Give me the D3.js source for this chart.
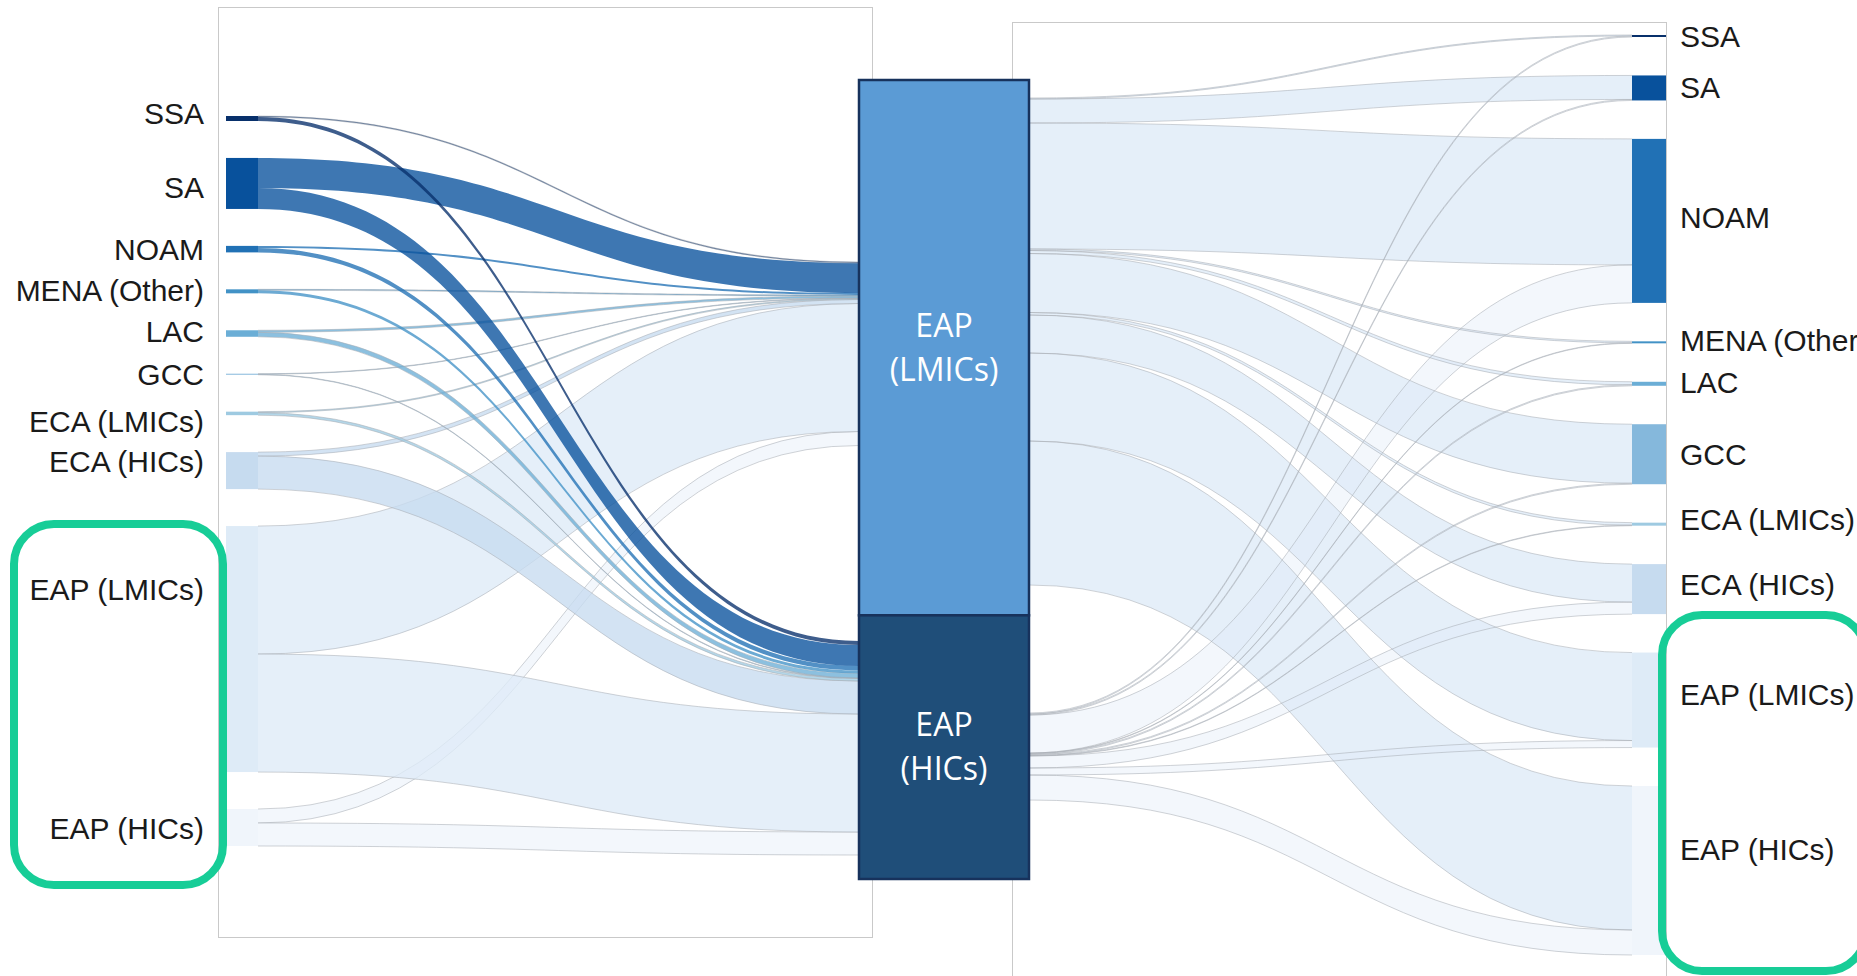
<!DOCTYPE html>
<html>
<head>
<meta charset="utf-8">
<script src="https://cdn.jsdelivr.net/npm/d3@7"></script>
<style>
  body { margin: 0; background: #ffffff; }
  svg { display: block; }
</style>
</head>
<body>
<svg id="chart" width="1857" height="976"></svg>
<script>
// ---------------- DATA ----------------
const regions = ["SSA", "SA", "NOAM", "MENA (Other)", "LAC", "GCC",
                 "ECA (LMICs)", "ECA (HICs)", "EAP (LMICs)", "EAP (HICs)"];
const hubs = ["EAP (LMICs)", "EAP (HICs)"];
const hubShare = [67, 33];

// flows from each region (left) into the two EAP hubs
const inToLMIC = [0.5, 15, 1, 0.5, 1, 0.25, 0.5, 2, 64, 7];
const inToHIC  = [2, 10.5, 2.25, 1.5, 2.25, 0.25, 1.25, 16.5, 59, 11.5];

// flows from the two EAP hubs out to each region (right)
const outFromLMIC = [0.5, 12, 63, 0.75, 1.5, 29.5, 1.25, 19, 44, 72];
const outFromHIC  = [0.5, 0.5, 19, 0.25, 0.5, 0.5, 0.25, 6, 3.5, 12.5];

// ---------------- STYLE / LAYOUT ----------------
const regionColors = ["#08306b", "#08519c", "#2171b5", "#4292c6", "#6baed6",
                      "#85b8dc", "#9ecae1", "#c6dbef", "#deebf7", "#f0f5fb"];
const hubColors = ["#5b9bd5", "#1f4e79"];
const color = d3.scaleOrdinal(regions, regionColors);

const svg = d3.select("#chart");
const px = d3.scaleLinear().domain([0, 1]).range([0, 2]);

const L = { x0: 226, x1: 258, top: 116, bottom: 846 };
const R = { x0: 1632, x1: 1666, top: 35, bottom: 955 };
const HUB = { x0: 859, x1: 1029, top: 80, bottom: 879 };
const hubInStart = [262, 641];
const hubOutStart = [98, 713];
const linkOpacity = 0.78;

const leftLabelDy = { "SSA": -5, "SA": 4, "MENA (Other)": -1, "LAC": -2, "ECA (LMICs)": 8,
                      "ECA (HICs)": -9, "EAP (LMICs)": -60, "EAP (HICs)": 1 };
const rightLabelDy = { "NOAM": -3, "MENA (Other)": -1.5, "LAC": -1, "ECA (LMICs)": -4.5,
                       "ECA (HICs)": -5, "EAP (LMICs)": -6, "EAP (HICs)": -21.5 };

// ---------------- LAYOUT COMPUTATION ----------------
function stack(values, top, bottom) {
  const hs = values.map(v => px(v));
  const total = d3.sum(hs);
  const pad = (bottom - top - total) / (values.length - 1);
  let y = top;
  return hs.map(h => { const n = { y0: y, y1: y + h }; y += h + pad; return n; });
}

const leftVals = regions.map((r, i) => inToLMIC[i] + inToHIC[i]);
const rightVals = regions.map((r, i) => outFromLMIC[i] + outFromHIC[i]);
const leftNodes = stack(leftVals, L.top, L.bottom);
const rightNodes = stack(rightVals, R.top, R.bottom);

const hubY = d3.scaleLinear().domain([0, d3.sum(hubShare)]).range([HUB.top, HUB.bottom]);
const hubBounds = [[hubY(0), hubY(hubShare[0])], [hubY(hubShare[0]), hubY(hubShare[0] + hubShare[1])]];

// left links
const leftLinks = [];
const inFlows = [inToLMIC, inToHIC];
regions.forEach((r, i) => {
  let sy = leftNodes[i].y0;
  [0, 1].forEach(h => {
    const hh = px(inFlows[h][i]);
    leftLinks.push({ src: i, hub: h, h: hh, sy: sy, ty: 0 });
    sy += hh;
  });
});
[0, 1].forEach(h => {
  let ty = hubInStart[h];
  leftLinks.filter(l => l.hub === h).forEach(l => { l.ty = ty; ty += l.h; });
});

// right links
const rightLinks = [];
const outFlows = [outFromLMIC, outFromHIC];
regions.forEach((r, i) => {
  let ty = rightNodes[i].y0;
  [0, 1].forEach(h => {
    const hh = px(outFlows[h][i]);
    rightLinks.push({ tgt: i, hub: h, h: hh, sy: 0, ty: ty });
    ty += hh;
  });
});
[0, 1].forEach(h => {
  let sy = hubOutStart[h];
  rightLinks.filter(l => l.hub === h).forEach(l => { l.sy = sy; sy += l.h; });
});

// ---------------- DRAWING ----------------
function bandPath(x0, y0, x1, y1, h) {
  const xm = (x0 + x1) / 2;
  const p = d3.path();
  p.moveTo(x0, y0);
  p.bezierCurveTo(xm, y0, xm, y1, x1, y1);
  p.lineTo(x1, y1 + h);
  p.bezierCurveTo(xm, y1 + h, xm, y0 + h, x0, y0 + h);
  p.closePath();
  return p.toString();
}
function edgePath(x0, y0, x1, y1, h) {
  const xm = (x0 + x1) / 2;
  const p = d3.path();
  p.moveTo(x0, y0);
  p.bezierCurveTo(xm, y0, xm, y1, x1, y1);
  p.moveTo(x0, y0 + h);
  p.bezierCurveTo(xm, y0 + h, xm, y1 + h, x1, y1 + h);
  return p.toString();
}

// frames
svg.append("rect").attr("x", 218.5).attr("y", 7.5).attr("width", 654).attr("height", 930)
  .attr("fill", "none").attr("stroke", "#c9c9c9").attr("stroke-width", 1);
svg.append("rect").attr("x", 1012.5).attr("y", 22.5).attr("width", 654).attr("height", 980)
  .attr("fill", "none").attr("stroke", "#c9c9c9").attr("stroke-width", 1);

// right links (light)
const gR = svg.append("g");
rightLinks.forEach(l => {
  const c = color(hubs[l.hub]);
  gR.append("path").attr("d", bandPath(HUB.x1, l.sy, R.x0, l.ty, l.h))
    .attr("fill", c).attr("fill-opacity", linkOpacity);
});
rightLinks.forEach(l => {
  gR.append("path").attr("d", edgePath(HUB.x1, l.sy, R.x0, l.ty, l.h))
    .attr("fill", "none").attr("stroke", "#a8adb4").attr("stroke-opacity", 0.55).attr("stroke-width", 1);
});

// left links: draw light/large first, dark last
const gL = svg.append("g");
leftLinks.slice().sort((a, b) => b.src - a.src).forEach(l => {
  const c = color(regions[l.src]);
  gL.append("path").attr("d", bandPath(L.x1, l.sy, HUB.x0, l.ty, l.h))
    .attr("fill", c).attr("fill-opacity", linkOpacity);
  if (d3.hsl(c).l > 0.6 || l.h < 1.2) {
    gL.append("path").attr("d", edgePath(L.x1, l.sy, HUB.x0, l.ty, l.h))
      .attr("fill", "none").attr("stroke", "#a8adb4").attr("stroke-opacity", 0.55).attr("stroke-width", 1);
  }
});

// nodes
svg.append("g").selectAll("rect").data(regions).join("rect")
  .attr("x", L.x0).attr("width", L.x1 - L.x0)
  .attr("y", (d, i) => leftNodes[i].y0)
  .attr("height", (d, i) => Math.max(1, leftNodes[i].y1 - leftNodes[i].y0))
  .attr("fill", d => color(d));
svg.append("g").selectAll("rect").data(regions).join("rect")
  .attr("x", R.x0).attr("width", R.x1 - R.x0)
  .attr("y", (d, i) => rightNodes[i].y0)
  .attr("height", (d, i) => Math.max(1, rightNodes[i].y1 - rightNodes[i].y0))
  .attr("fill", d => color(d));

// hub box
const gH = svg.append("g");
hubs.forEach((h, k) => {
  const [y0, y1] = hubBounds[k];
  gH.append("rect").attr("x", HUB.x0).attr("y", y0).attr("width", HUB.x1 - HUB.x0).attr("height", y1 - y0)
    .attr("fill", hubColors[k]).attr("stroke", "#17325c").attr("stroke-width", 2.5);
  const lines = h.split(" ");
  const cy = (y0 + y1) / 2;
  gH.append("text").attr("x", (HUB.x0 + HUB.x1) / 2).attr("y", cy)
    .attr("text-anchor", "middle").attr("fill", "#ffffff")
    .attr("font-family", "'Open Sans', sans-serif").attr("font-size", 32)
    .selectAll("tspan").data(lines).join("tspan")
    .attr("x", (HUB.x0 + HUB.x1) / 2)
    .attr("y", (d, i) => cy + (i - (lines.length - 1) / 2) * 44)
    .attr("dy", "0.35em")
    .text(d => d);
});

// labels
const labelFont = "'Liberation Sans', Arial, sans-serif";
svg.append("g").selectAll("text").data(regions).join("text")
  .attr("x", 204)
  .attr("y", (d, i) => (leftNodes[i].y0 + leftNodes[i].y1) / 2 + (leftLabelDy[d] || 0))
  .attr("dy", "0.35em").attr("text-anchor", "end")
  .attr("font-family", labelFont).attr("font-size", 30).attr("fill", "#1a1a1a")
  .text(d => d);
svg.append("g").selectAll("text").data(regions).join("text")
  .attr("x", 1680)
  .attr("y", (d, i) => (rightNodes[i].y0 + rightNodes[i].y1) / 2 + (rightLabelDy[d] || 0))
  .attr("dy", "0.35em").attr("text-anchor", "start")
  .attr("font-family", labelFont).attr("font-size", 30).attr("fill", "#1a1a1a")
  .text(d => d);

// highlight boxes
svg.append("rect").attr("x", 14).attr("y", 524).attr("width", 209).attr("height", 361)
  .attr("rx", 40).attr("ry", 40)
  .attr("fill", "none").attr("stroke", "#17cd97").attr("stroke-width", 8);
svg.append("rect").attr("x", 1662).attr("y", 615).attr("width", 204).attr("height", 356)
  .attr("rx", 40).attr("ry", 40)
  .attr("fill", "none").attr("stroke", "#17cd97").attr("stroke-width", 8);
</script>
</body>
</html>
